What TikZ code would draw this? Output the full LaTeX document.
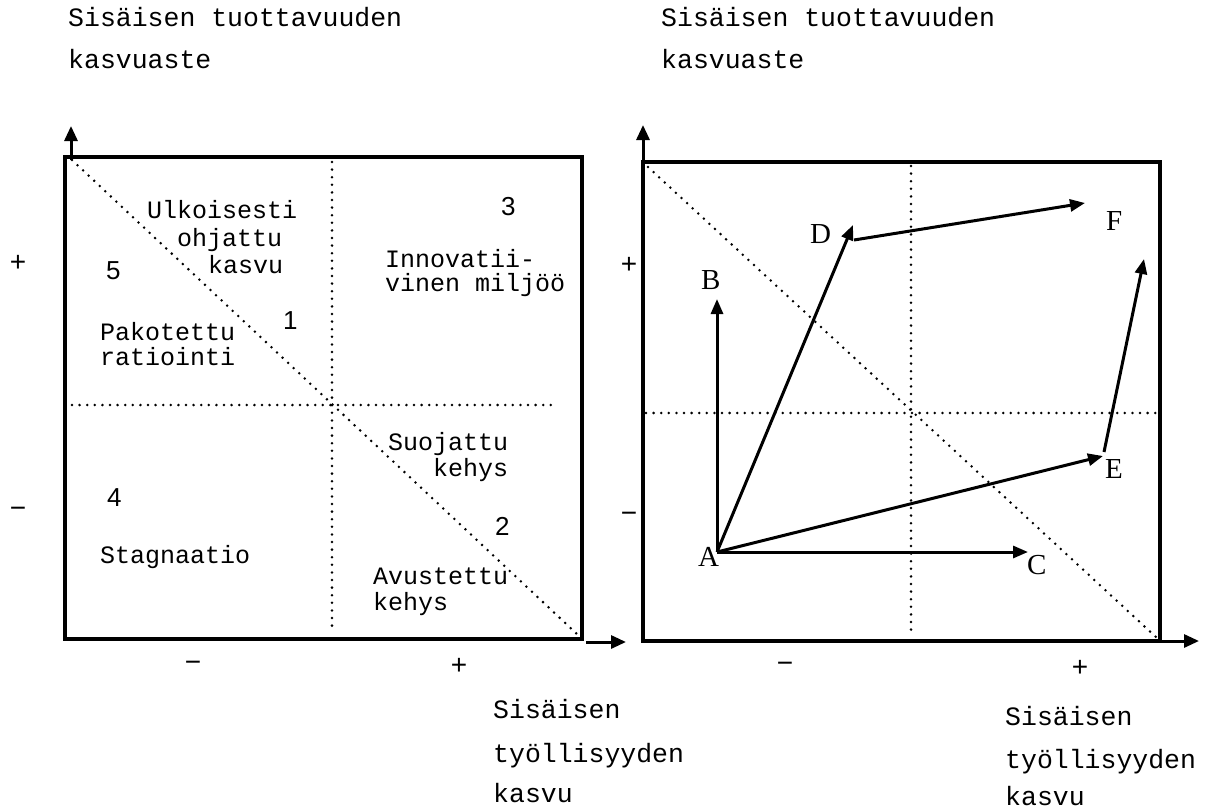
\documentclass[tikz,border=0pt]{standalone}
\usepackage{fontspec}
\usetikzlibrary{arrows.meta}
\newfontfamily\monof{Liberation Mono}
\newfontfamily\sansf{Liberation Sans}
\newfontfamily\seriff{Liberation Serif}
\begin{document}
\begin{tikzpicture}[x=1pt,y=-1pt,
 frame/.style={line width=3.2pt},
 axis/.style={line width=3pt,-{Triangle[length=15pt,width=13pt]}},
 vec/.style={line width=3pt,-{Triangle[length=15pt,width=12pt]}},
 dots/.style={line width=2.8pt,line cap=round,dash pattern=on 0pt off 7.6pt},
 lbl/.style={font=\monof\fontsize{25}{25}\selectfont,anchor=base west,inner sep=0pt},
 big/.style={font=\monof\fontsize{26.5}{26.5}\selectfont,anchor=base west,inner sep=0pt},
 num/.style={font=\sansf\fontsize{26}{26}\selectfont,anchor=base west,inner sep=0pt},
 sign/.style={font=\sansf\fontsize{28}{28}\selectfont,inner sep=0pt},
 pt/.style={font=\seriff\fontsize{29}{29}\selectfont,anchor=base west,inner sep=0pt}]

\useasboundingbox[fill=white] (0,0) rectangle (1221,811);

% ---------- left diagram ----------
\coordinate (L1) at (65,157);
\coordinate (L2) at (582,639);
\draw[frame] (L1) rectangle (L2);
\coordinate (LyA) at (71,160);
\coordinate (LyB) at (71,126);
\draw[axis] (LyA) -- (LyB);
\coordinate (LxA) at (586,642);
\coordinate (LxB) at (626,642);
\draw[axis] (LxA) -- (LxB);
\coordinate (Lv1) at (332,162);
\coordinate (Lv2) at (332,632);
\draw[dots] (Lv1) -- (Lv2);
\coordinate (Lh1) at (72,405);
\coordinate (Lh2) at (557,405);
\draw[dots] (Lh1) -- (Lh2);
\coordinate (Ld1) at (72,160);
\coordinate (Ld2) at (578,635);
\draw[dots] (Ld1) -- (Ld2);

\node[big] (t1) at (68,27) {Sisäisen tuottavuuden};
\node[big] (t2) at (68,68) {kasvuaste};

\node[lbl] (u1) at (147,218) {Ulkoisesti};
\node[lbl] (u2) at (177,246) {ohjattu};
\node[lbl] (u3) at (208,273) {kasvu};
\node[num] (n3) at (501,215) {3};
\node[lbl] (i1) at (385,267) {Innovatii-};
\node[lbl] (i2) at (385,291) {vinen miljöö};
\node[num] (n5) at (106,279) {5};
\node[num] (n1) at (283,329) {1};
\node[lbl] (p1) at (100,340) {Pakotettu};
\node[lbl] (p2) at (100,365) {ratiointi};
\node[lbl] (s1) at (388,450) {Suojattu};
\node[lbl] (s2) at (433,476) {kehys};
\node[num] (n4) at (107,506) {4};
\node[num] (n2) at (495,535) {2};
\node[lbl] (st) at (100,563) {Stagnaatio};
\node[lbl] (a1) at (373,584) {Avustettu};
\node[lbl] (a2) at (373,610) {kehys};

\node[sign] (lp) at (18,263) {+};
\node[sign] (lm) at (18,512) {\char"2212};
\node[sign] (bm) at (193,666) {\char"2212};
\node[sign] (bp) at (459,666) {+};

\node[big] (b1) at (493,718) {Sisäisen};
\node[big] (b2) at (493,762) {työllisyyden};
\node[big] (b3) at (493,802) {kasvu};

% ---------- right diagram ----------
\coordinate (R1) at (643,162);
\coordinate (R2) at (1160,641);
\draw[frame] (R1) rectangle (R2);
\coordinate (RyA) at (643,164);
\coordinate (RyB) at (643,125);
\draw[axis] (RyA) -- (RyB);
\coordinate (RxA) at (1150,641);
\coordinate (RxB) at (1199,641);
\draw[axis] (RxA) -- (RxB);
\coordinate (Rv1) at (911,166);
\coordinate (Rv2) at (911,636);
\draw[dots] (Rv1) -- (Rv2);
\coordinate (Rh1) at (646,413);
\coordinate (Rh2) at (1157,413);
\draw[dots] (Rh1) -- (Rh2);
\coordinate (Rd1) at (648,167);
\coordinate (Rd2) at (1157,638);
\draw[dots] (Rd1) -- (Rd2);

\node[big] (r1) at (661,27) {Sisäisen tuottavuuden};
\node[big] (r2) at (661,68) {kasvuaste};

\coordinate (A) at (717,552);
\coordinate (Bt) at (717,299);
\coordinate (Ct) at (1028,552);
\coordinate (Dt) at (853,225);
\coordinate (Et) at (1103,456);
\coordinate (Es) at (1104,452);
\coordinate (Ft) at (1144,259);
\coordinate (Ds) at (854,240);
\coordinate (DFt) at (1085,203);
\draw[vec] (A) -- (Bt);
\draw[vec] (A) -- (Ct);
\draw[vec] (A) -- (Dt);
\draw[vec] (A) -- (Et);
\draw[vec] (Es) -- (Ft);
\draw[vec] (Ds) -- (DFt);

\node[pt] (la) at (698,566) {A};
\node[pt] (lb) at (701,289) {B};
\node[pt] (lc) at (1027,574) {C};
\node[pt] (ld) at (810,243) {D};
\node[pt] (le) at (1105,478) {E};
\node[pt] (lf) at (1106,230) {F};

\node[sign] (rp) at (629,265) {+};
\node[sign] (rm) at (629,517) {\char"2212};
\node[sign] (rbm) at (785,667) {\char"2212};
\node[sign] (rbp) at (1080,668) {+};

\node[big] (c1) at (1005,725) {Sisäisen};
\node[big] (c2) at (1005,768) {työllisyyden};
\node[big] (c3) at (1005,805) {kasvu};
\end{tikzpicture}
\end{document}
